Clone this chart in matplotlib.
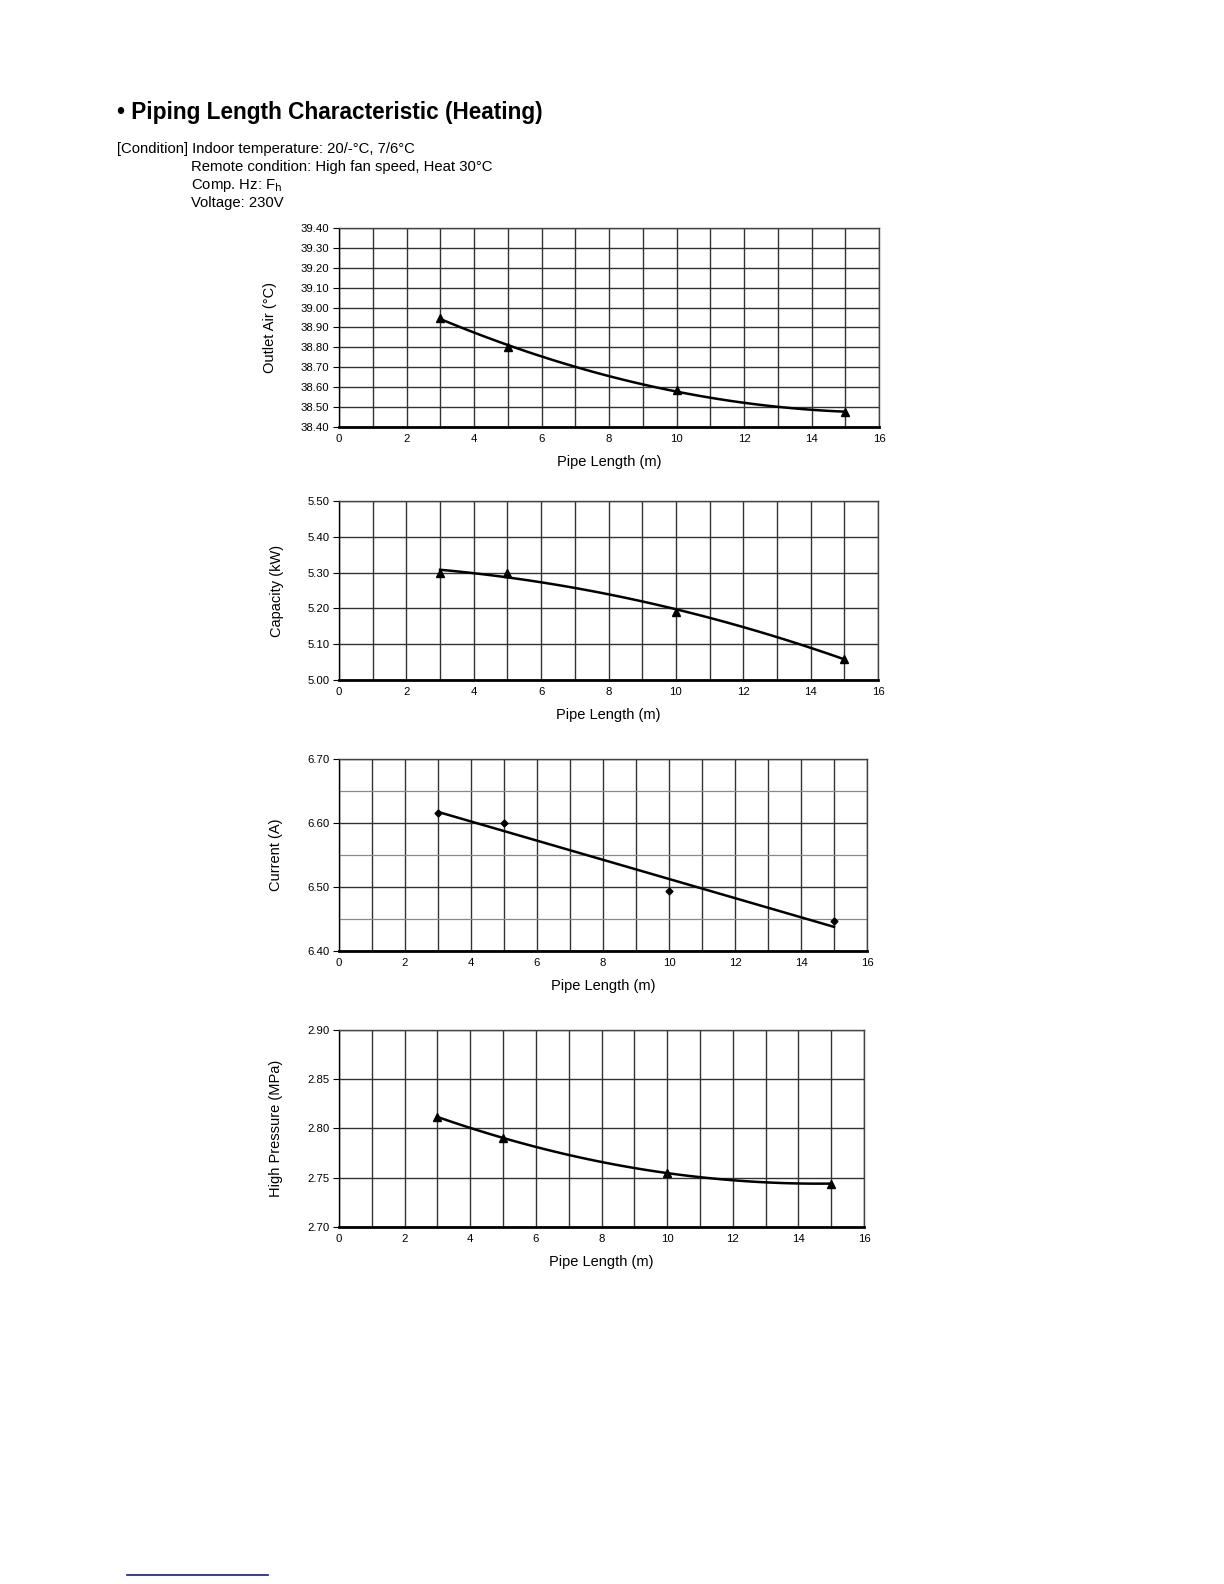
import numpy as np
import matplotlib
matplotlib.use("Agg")
import matplotlib.pyplot as plt
from matplotlib.lines import Line2D
from matplotlib.ticker import MultipleLocator

plt.rcParams['font.family'] = ['Liberation Sans', 'DejaVu Sans']

# pipe length (m) of the measured points
pipe_len = [3, 5, 10, 15]

outlet_air = [38.95, 38.80, 38.585, 38.475]
capacity = [5.30, 5.30, 5.19, 5.06]
current = [6.615, 6.60, 6.493, 6.447]
high_pressure = [2.812, 2.79, 2.755, 2.744]

y_labels = ["Outlet Air (°C)", "Capacity (kW)", "Current (A)", "High Pressure (MPa)"]
y_limits = [(38.40, 39.40), (5.00, 5.50), (6.40, 6.70), (2.70, 2.90)]
y_major = [0.10, 0.10, 0.10, 0.05]
y_minor = [None, None, 0.05, None]
trend_deg = [2, 2, 1, 2]
markers = ['^', '^', 'D', '^']

# axes boxes in figure pixels: left, top, right, bottom
boxes = [(339, 228, 879, 427), (339, 501, 878, 680),
         (339, 759, 867, 951), (339, 1030, 864, 1227)]

W, H = 1224, 1584
fig = plt.figure(figsize=(W / 100, H / 100), dpi=100)

fig.text(117 / W, 1 - 112 / H, "• Piping Length Characteristic (Heating)",
         fontsize=16.3, fontweight='bold', va='center', ha='left')
fig.text(117 / W, 1 - 149 / H, "[Condition] Indoor temperature: 20/-°C, 7/6°C",
         fontsize=10.7, va='center', ha='left')
fig.text(191 / W, 1 - 167 / H, "Remote condition: High fan speed, Heat 30°C",
         fontsize=10.7, va='center', ha='left')
fig.text(191 / W, 1 - 185 / H, r"Comp. Hz: F$_{\mathrm{h}}$",
         fontsize=10.7, va='center', ha='left')
fig.text(191 / W, 1 - 203 / H, "Voltage: 230V",
         fontsize=10.7, va='center', ha='left')

series = [outlet_air, capacity, current, high_pressure]
x = np.array(pipe_len, dtype=float)

for i, vals in enumerate(series):
    l, t, r, b = boxes[i]
    ax = fig.add_axes([l / W, 1 - b / H, (r - l) / W, (b - t) / H])
    y = np.array(vals)

    # excel style trend line
    coef = np.polyfit(x, y, trend_deg[i])
    xs = np.linspace(x[0], x[-1], 100)
    ax.plot(xs, np.polyval(coef, xs), color='black', lw=1.8, zorder=3)
    ms = 6 if markers[i] == '^' else 3.5
    ax.plot(x, y, linestyle='none', marker=markers[i], color='black', ms=ms, zorder=4)

    ax.set_xlim(0, 16)
    ax.set_ylim(*y_limits[i])
    ax.xaxis.set_major_locator(MultipleLocator(2))
    ax.xaxis.set_minor_locator(MultipleLocator(1))
    ax.yaxis.set_major_locator(MultipleLocator(y_major[i]))
    if y_minor[i]:
        ax.yaxis.set_minor_locator(MultipleLocator(y_minor[i]))
        ax.grid(True, which='minor', axis='y', color='#888888', lw=0.9)
    ax.yaxis.set_major_formatter(plt.FormatStrFormatter('%.2f'))

    ax.grid(True, which='major', axis='both', color='#333333', lw=1.0)
    ax.grid(True, which='minor', axis='x', color='#333333', lw=1.0)
    ax.set_axisbelow(True)

    for s in ['top', 'right']:
        ax.spines[s].set_color('#444444')
        ax.spines[s].set_linewidth(1.0)
    ax.spines['left'].set_linewidth(1.0)
    ax.spines['bottom'].set_linewidth(2.0)

    ax.tick_params(axis='both', which='major', labelsize=8.2, length=4, width=0.8,
                   direction='out', pad=3)
    ax.tick_params(axis='x', which='minor', length=0)
    ax.tick_params(axis='y', which='minor', length=0)
    ax.tick_params(axis='x', which='major', length=0, pad=5)

    ax.set_xlabel("Pipe Length (m)", fontsize=10.5, labelpad=8)
    ax.set_ylabel(y_labels[i], fontsize=10.5, labelpad=17)

fig.add_artist(Line2D([127 / W, 268 / W], [1 - 1575 / H, 1 - 1575 / H],
                      color='#1a1a80', lw=1.2))

fig.savefig("out.png", dpi=100)
